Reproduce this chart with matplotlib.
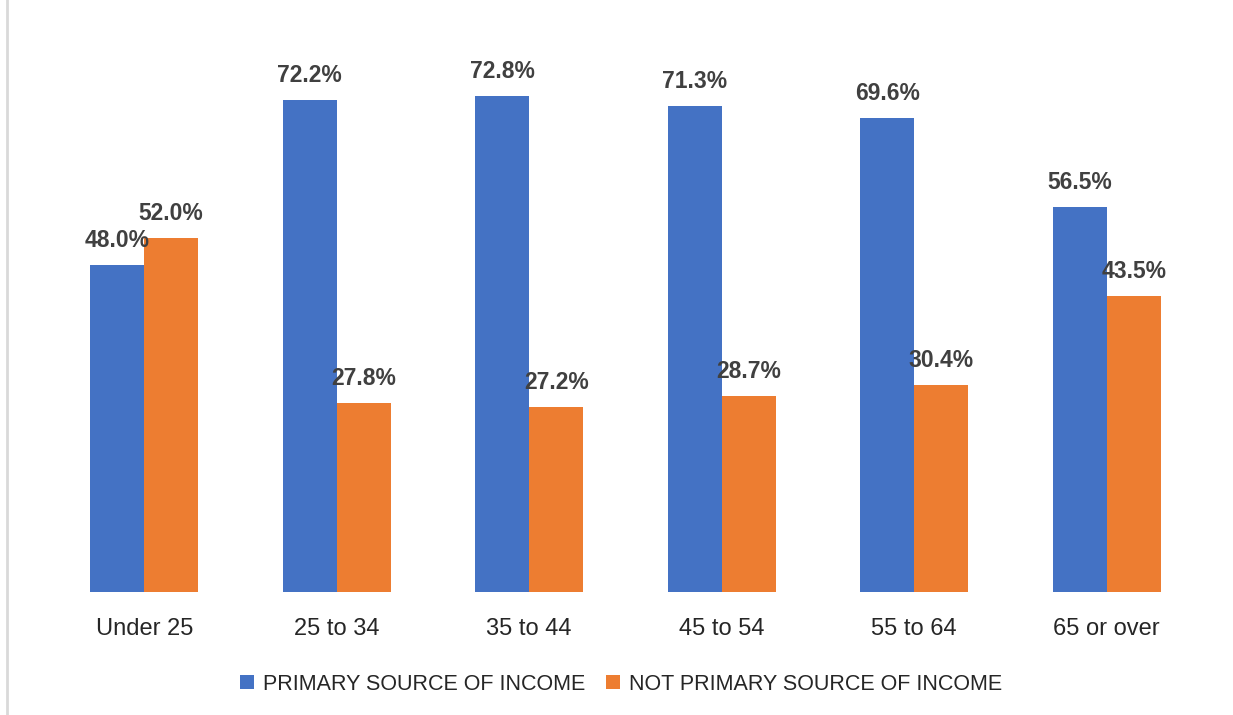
import matplotlib.pyplot as plt
from matplotlib.lines import Line2D
import numpy as np

plt.rcParams["font.family"] = ["Liberation Sans", "DejaVu Sans"]

age_groups = ["Under 25", "25 to 34", "35 to 44", "45 to 54", "55 to 64", "65 or over"]
primary = [48.0, 72.2, 72.8, 71.3, 69.6, 56.5]
not_primary = [52.0, 27.8, 27.2, 28.7, 30.4, 43.5]
series_names = ["PRIMARY SOURCE OF INCOME", "NOT PRIMARY SOURCE OF INCOME"]

blue = "#4472C4"
orange = "#ED7D31"

fig = plt.figure(figsize=(12.33, 7.15), dpi=100)
ax = fig.add_axes([48 / 1233, 123 / 715, 1155 / 1233, 545 / 715])

x = np.arange(len(age_groups))
w = 0.28
bars1 = ax.bar(x - w / 2, primary, w, color=blue, label=series_names[0])
bars2 = ax.bar(x + w / 2, not_primary, w, color=orange, label=series_names[1])

# value labels above each bar
for bars, vals in ((bars1, primary), (bars2, not_primary)):
    for b, v in zip(bars, vals):
        ax.annotate(f"{v:.1f}%", (b.get_x() + b.get_width() / 2, v),
                    xytext=(0, 13), textcoords="offset points",
                    ha="center", va="baseline", fontsize=16.5,
                    fontweight="bold", color="#404040")

ax.set_xlim(-0.5, len(age_groups) - 0.5)
ax.set_ylim(0, 80)
ax.set_xticks(x)
ax.set_xticklabels(age_groups, fontsize=17, color="#262626")
ax.tick_params(axis="x", length=0, pad=19)
ax.set_yticks([])
for s in ax.spines.values():
    s.set_visible(False)

fig.legend(loc="center", bbox_to_anchor=(621 / 1233, 31 / 715), ncol=2,
           frameon=False, fontsize=15.5, handlelength=0.65, handleheight=0.65,
           handletextpad=0.42, columnspacing=1.0, labelcolor="#262626")

# thin gray border on the left edge
fig.add_artist(Line2D([7 / 1233, 7 / 1233], [0, 1], color="#d9d9d9", lw=2))

fig.savefig("out.png", dpi=100)
